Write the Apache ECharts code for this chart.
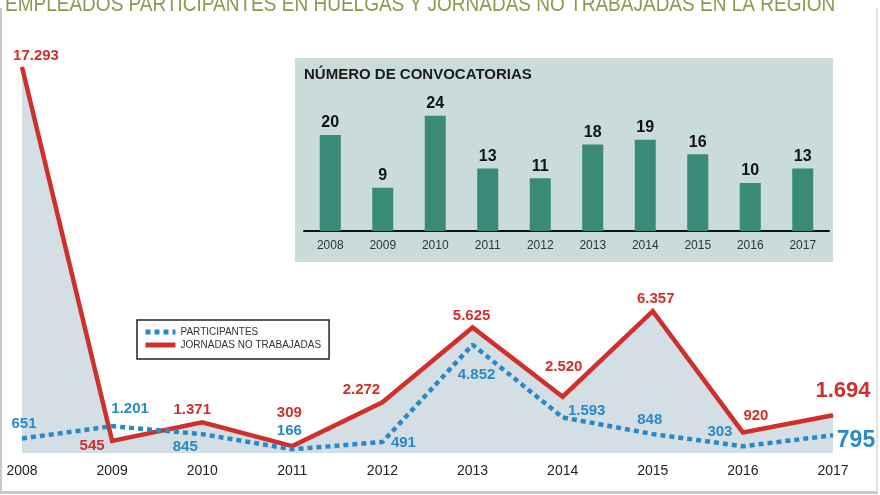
<!DOCTYPE html>
<html>
<head>
<meta charset="utf-8">
<script src="https://cdn.jsdelivr.net/npm/echarts@6/dist/echarts.min.js"></script>
<style>html,body{margin:0;padding:0;background:#fff}#c{width:880px;height:495px}</style>
</head>
<body>
<div id="c"></div>
<script>
// ---- data ----
const years = ['2008','2009','2010','2011','2012','2013','2014','2015','2016','2017'];
const participantes = [651, 1201, 845, 166, 491, 4852, 1593, 848, 303, 795];
const jornadas = [17293, 545, 1371, 309, 2272, 5625, 2520, 6357, 920, 1694];
const convocatorias = [20, 9, 24, 13, 11, 18, 19, 16, 10, 13];
const seriesNames = ['PARTICIPANTES', 'JORNADAS NO TRABAJADAS'];
const titleText = 'EMPLEADOS PARTICIPANTES EN HUELGAS Y JORNADAS NO TRABAJADAS EN LA REGIÓN';
const insetTitle = 'NÚMERO DE CONVOCATORIAS';

// ---- label layout (style, not data) ----
const redOffsets = [[14,-11],[-20,5],[-10,-13],[-3,-33],[-21,-12],[-1,-12],[1,-30],[3,-12],[13,-17],[10,-24]];
const blueOffsets = [[2,-15],[18,-17],[-17,13],[-3,-18],[21,1],[4,30],[24,-7],[-3,-14],[-23,-14],[23,5]];

const fmt = v => v >= 1000 ? Math.floor(v/1000) + '.' + String(v % 1000).padStart(3,'0') : String(v);
const RED = '#d0302b', BLUE = '#2a88c8';
const sans = 'Liberation Sans, Arial, sans-serif';

function mk(values, offsets, color, lastSize) {
  return values.map((v, i) => ({
    value: v,
    label: {
      show: true, position: 'inside', offset: offsets[i],
      formatter: fmt(v), color: color, fontFamily: sans, fontWeight: 'bold',
      fontSize: i === values.length - 1 ? lastSize : 15
    }
  }));
}

const chart = echarts.init(document.getElementById('c'), null, {renderer: 'canvas'});
chart.setOption({
  animation: false,
  backgroundColor: '#fff',
  title: [
    { text: insetTitle, left: 304, top: 67, padding: 0,
      textStyle: { fontFamily: sans, fontSize: 15, fontWeight: 'bold', color: '#1a1a1a' } }
  ],
  graphic: [
    { type: 'rect', z: -10, shape: { x: 295, y: 58, width: 538, height: 204 }, style: { fill: '#c9dcda' } },
    { type: 'text', x: 5, y: -6, scaleX: 0.864,
      style: { text: titleText, fontFamily: sans, fontSize: 22, fill: '#8a9a52', verticalAlign: 'top', align: 'left' } },
    { type: 'line', shape: { x1: 1, y1: 8, x2: 1, y2: 492 }, style: { stroke: '#c8c8c8', lineWidth: 2 } },
    { type: 'line', shape: { x1: 0, y1: 492.5, x2: 878, y2: 492.5 }, style: { stroke: '#c8c8c8', lineWidth: 3 } },
    { type: 'line', shape: { x1: 877, y1: 8, x2: 877, y2: 492 }, style: { stroke: '#d8d8d8', lineWidth: 1.5 } }
  ],
  legend: {
    orient: 'vertical', left: 137, top: 320,
    data: seriesNames,
    borderColor: '#222', borderWidth: 1.5, padding: [7, 8, 9, 6],
    itemWidth: 30, itemHeight: 5, itemGap: 3,
    itemStyle: { opacity: 0 },
    lineStyle: { width: 5 },
    textStyle: { fontFamily: sans, fontSize: 10, color: '#333' }
  },
  grid: [
    { left: 22, right: 47, top: 67, bottom: 42 },
    { left: 304, width: 525, top: 111, height: 120 }
  ],
  xAxis: [
    { type: 'category', gridIndex: 0, data: years, boundaryGap: false,
      axisLine: { show: false }, axisTick: { show: false },
      axisLabel: { color: '#222', fontSize: 14, fontFamily: sans, margin: 11 } },
    { type: 'category', gridIndex: 1, data: years,
      axisLine: { show: true, lineStyle: { color: '#111', width: 2 } }, axisTick: { show: false },
      axisLabel: { color: '#333', fontSize: 12, fontFamily: sans, margin: 9 } }
  ],
  yAxis: [
    { type: 'value', gridIndex: 0, min: 0, max: v => v.max, show: false, splitLine: { show: false } },
    { type: 'value', gridIndex: 1, min: 0, max: 25, show: false, splitLine: { show: false } }
  ],
  series: [
    { name: seriesNames[1], type: 'line', xAxisIndex: 0, yAxisIndex: 0, z: 3,
      data: mk(jornadas, redOffsets, RED, 22),
      symbol: 'circle', symbolSize: 1, itemStyle: { color: RED },
      lineStyle: { color: RED, width: 4.5, join: 'miter' },
      areaStyle: { color: '#d3dfe5', opacity: 1 } },
    { name: seriesNames[0], type: 'line', xAxisIndex: 0, yAxisIndex: 0, z: 4,
      data: mk(participantes, blueOffsets, BLUE, 23),
      symbol: 'circle', symbolSize: 1, itemStyle: { color: BLUE },
      lineStyle: { color: BLUE, width: 4.5, type: [5, 4], cap: 'butt' } },
    { type: 'bar', xAxisIndex: 1, yAxisIndex: 1, data: convocatorias, barWidth: 21,
      itemStyle: { color: '#3a8a78' },
      label: { show: true, position: 'top', distance: 4, color: '#111', fontSize: 16, fontWeight: 'bold', fontFamily: sans } }
  ]
});
</script>
</body>
</html>
